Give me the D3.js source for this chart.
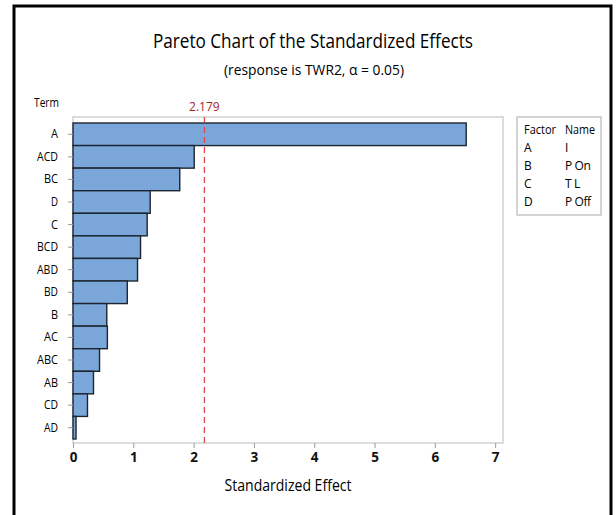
<!DOCTYPE html>
<html>
<head>
<meta charset="utf-8">
<script src="https://cdn.jsdelivr.net/npm/d3@7"></script>
<style>
  body { margin: 0; background: #fff; }
  text { font-family: "Open Sans", sans-serif; fill: #000; }
</style>
</head>
<body>
<svg id="chart" width="616" height="515"></svg>
<script>
// terms in pareto order, with standardized effects
const terms = ["A", "ACD", "BC", "D", "C", "BCD", "ABD", "BD", "B", "AC", "ABC", "AB", "CD", "AD"]
const effects = [6.52, 2.01, 1.77, 1.28, 1.23, 1.12, 1.07, 0.90, 0.56, 0.57, 0.44, 0.34, 0.24, 0.05]
const xTicks = [0, 1, 2, 3, 4, 5, 6, 7]
const critical = 2.179
const factors = ["A", "B", "C", "D"]
const factorNames = ["I", "P On", "T L", "P Off"]

const data = terms.map((t, i) => ({term: t, effect: effects[i]}))

const svg = d3.select("#chart")

// outer frame
svg.append("rect")
    .attr("x", 14).attr("y", 6)
    .attr("width", 597).attr("height", 520)
    .attr("fill", "none")
    .attr("stroke", "#000")
    .attr("stroke-width", 3)

const plot = {left: 73, top: 117, right: 503, bottom: 443}

const x = d3.scaleLinear()
    .domain([0, 7.13])
    .range([plot.left, plot.right])

const y = d3.scaleBand()
    .domain(terms)
    .range([plot.top + 6, plot.bottom - 4])
    .padding(0)

// plot frame
svg.append("rect")
    .attr("x", plot.left).attr("y", plot.top)
    .attr("width", plot.right - plot.left)
    .attr("height", plot.bottom - plot.top)
    .attr("fill", "none")
    .attr("stroke", "#c6c6c6")
    .attr("stroke-width", 1.2)

// bars
svg.append("g")
    .selectAll("rect")
    .data(data)
    .enter().append("rect")
    .attr("x", x(0))
    .attr("y", d => y(d.term))
    .attr("width", d => x(d.effect) - x(0))
    .attr("height", y.bandwidth())
    .attr("fill", "#7ba6d9")
    .attr("stroke", "#1c2530")
    .attr("stroke-width", 1.4)

// reference line
svg.append("line")
    .attr("x1", x(critical)).attr("x2", x(critical))
    .attr("y1", plot.top).attr("y2", plot.bottom)
    .attr("stroke", "#e0474c")
    .attr("stroke-width", 1.3)
    .attr("stroke-dasharray", "6,4")

svg.append("text")
    .attr("x", x(critical))
    .attr("y", 111)
    .attr("text-anchor", "middle")
    .attr("font-size", 12)
    .style("fill", "#a3262b")
    .text(critical.toFixed(3))

// x axis
const xAxis = svg.append("g")
    .attr("transform", "translate(0," + plot.bottom + ")")
    .call(d3.axisBottom(x).tickValues(xTicks).tickSize(5).tickSizeOuter(0))
xAxis.select(".domain").remove()
xAxis.selectAll("line").attr("stroke", "#9a9a9a")
xAxis.selectAll("text")
    .attr("font-size", 13.5)
    .attr("font-weight", "bold")
    .attr("dy", "0.71em")
    .attr("y", 9)
    .style("fill", "#111")

// y axis
const yAxis = svg.append("g")
    .attr("transform", "translate(" + plot.left + ",0)")
    .call(d3.axisLeft(y).tickSize(5).tickSizeOuter(0).tickPadding(10))
yAxis.select(".domain").remove()
yAxis.selectAll("line").attr("stroke", "#9a9a9a")
yAxis.selectAll("text")
    .attr("font-size", 12.5)
    .attr("textLength", d => d.length * 7)
    .attr("lengthAdjust", "spacingAndGlyphs")
    .style("fill", "#000")

// titles
svg.append("text")
    .attr("x", 313).attr("y", 48)
    .attr("text-anchor", "middle")
    .attr("font-size", 19.5)
    .attr("textLength", 320)
    .attr("lengthAdjust", "spacingAndGlyphs")
    .text("Pareto Chart of the Standardized Effects")

svg.append("text")
    .attr("x", 314).attr("y", 75)
    .attr("text-anchor", "middle")
    .attr("font-size", 14.5)
    .attr("textLength", 180)
    .attr("lengthAdjust", "spacingAndGlyphs")
    .text("(response is TWR2, \u03b1 = 0.05)")

svg.append("text")
    .attr("x", 288).attr("y", 491)
    .attr("text-anchor", "middle")
    .attr("font-size", 16.5)
    .attr("textLength", 127)
    .attr("lengthAdjust", "spacingAndGlyphs")
    .text("Standardized Effect")

svg.append("text")
    .attr("x", 34).attr("y", 107)
    .attr("font-size", 12)
    .attr("textLength", 25)
    .attr("lengthAdjust", "spacingAndGlyphs")
    .text("Term")

// legend
const legend = svg.append("g")
legend.append("rect")
    .attr("x", 517).attr("y", 117)
    .attr("width", 84).attr("height", 98)
    .attr("fill", "none")
    .attr("stroke", "#b8b8b8")
    .attr("stroke-width", 1.2)

legend.append("text").attr("x", 524).attr("y", 134).attr("font-size", 12)
    .attr("textLength", 32).attr("lengthAdjust", "spacingAndGlyphs").text("Factor")
legend.append("text").attr("x", 565).attr("y", 134).attr("font-size", 12)
    .attr("textLength", 30).attr("lengthAdjust", "spacingAndGlyphs").text("Name")

const rowY = d3.scalePoint().domain(factors).range([152, 206])
legend.selectAll(".f")
    .data(factors)
    .enter().append("text")
    .attr("x", 524)
    .attr("y", d => rowY(d))
    .attr("font-size", 12)
    .text(d => d)
legend.selectAll(".n")
    .data(factors)
    .enter().append("text")
    .attr("x", 565)
    .attr("y", d => rowY(d))
    .attr("font-size", 12)
    .attr("letter-spacing", -0.4)
    .text((d, i) => factorNames[i])
</script>
</body>
</html>
